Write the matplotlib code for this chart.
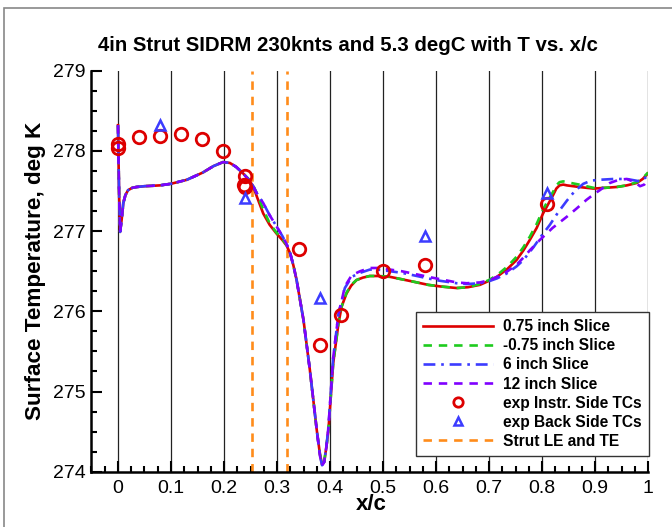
import matplotlib
matplotlib.use("Agg")
import matplotlib.pyplot as plt
from matplotlib.patches import Rectangle
from matplotlib.ticker import MultipleLocator, FuncFormatter

plt.rcParams["font.family"] = ["Liberation Sans", "DejaVu Sans"]

# 0.75 inch slice (red)
x_r = [0.0, 0.0005, 0.002, 0.004, 0.007, 0.01, 0.014, 0.019, 0.027, 0.035, 0.05, 0.079,
       0.1, 0.13, 0.16, 0.18, 0.198, 0.211, 0.223, 0.236, 0.248, 0.255, 0.262, 0.274,
       0.286, 0.299, 0.31, 0.318, 0.325, 0.331, 0.337, 0.35, 0.362, 0.375, 0.381, 0.385,
       0.389, 0.393, 0.397, 0.406, 0.416, 0.422, 0.431, 0.44, 0.45, 0.462, 0.475, 0.49,
       0.513, 0.535, 0.557, 0.585, 0.608, 0.639, 0.66, 0.683, 0.7, 0.715, 0.735, 0.752,
       0.765, 0.777, 0.79, 0.802, 0.812, 0.821, 0.827, 0.833, 0.84, 0.847, 0.87, 0.897,
       0.92, 0.941, 0.96, 0.979, 0.99, 1.0]
y_r = [278.32, 278.1, 277.5, 276.99, 277.15, 277.35, 277.45, 277.51, 277.54, 277.55, 277.56, 277.57,
       277.59, 277.64, 277.73, 277.81, 277.86, 277.85, 277.80, 277.72, 277.63, 277.56, 277.43, 277.22,
       277.08, 276.97, 276.89, 276.82, 276.72, 276.57, 276.39, 275.89, 275.27, 274.52, 274.22, 274.09,
       274.12, 274.3, 274.52, 275.35, 275.85, 276.06, 276.22, 276.32, 276.39, 276.42, 276.44, 276.44,
       276.43, 276.40, 276.37, 276.33, 276.31, 276.29, 276.30, 276.33, 276.38, 276.43, 276.53, 276.64,
       276.76, 276.89, 277.04, 277.22, 277.34, 277.45, 277.53, 277.57, 277.58, 277.57, 277.55, 277.53,
       277.54, 277.55, 277.57, 277.60, 277.65, 277.72]

# -0.75 inch slice (green)
x_g = x_r
y_g = [278.32, 278.1, 277.5, 276.99, 277.15, 277.35, 277.45, 277.51, 277.54, 277.55, 277.56, 277.57,
       277.59, 277.64, 277.73, 277.81, 277.86, 277.85, 277.80, 277.72, 277.64, 277.57, 277.47, 277.27,
       277.1, 276.98, 276.9, 276.83, 276.72, 276.57, 276.39, 275.89, 275.27, 274.52, 274.22, 274.1,
       274.13, 274.3, 274.52, 275.35, 275.85, 276.06, 276.23, 276.33, 276.39, 276.42, 276.44, 276.44,
       276.43, 276.40, 276.37, 276.33, 276.31, 276.29, 276.30, 276.34, 276.39, 276.45, 276.56, 276.68,
       276.8, 276.93, 277.09, 277.27, 277.39, 277.49, 277.57, 277.61, 277.62, 277.61, 277.58, 277.54,
       277.54, 277.55, 277.57, 277.61, 277.66, 277.73]

# 6 inch slice (blue)
x_b = [0.0, 0.0005, 0.002, 0.004, 0.007, 0.01, 0.014, 0.019, 0.027, 0.035, 0.05, 0.079,
       0.1, 0.13, 0.16, 0.18, 0.198, 0.211, 0.223, 0.236, 0.248, 0.255, 0.262, 0.274,
       0.286, 0.299, 0.31, 0.318, 0.325, 0.331, 0.337, 0.35, 0.362, 0.375, 0.381, 0.385,
       0.389, 0.393, 0.397, 0.406, 0.416, 0.422, 0.428, 0.441, 0.457, 0.475, 0.49, 0.513,
       0.535, 0.557, 0.585, 0.608, 0.639, 0.658, 0.683, 0.702, 0.715, 0.733, 0.752, 0.765,
       0.784, 0.8, 0.815, 0.83, 0.847, 0.862, 0.878, 0.893, 0.909, 0.935, 0.96, 0.985, 1.0]
y_b = [278.32, 278.1, 277.5, 276.99, 277.15, 277.35, 277.45, 277.51, 277.54, 277.55, 277.56, 277.57,
       277.59, 277.64, 277.73, 277.81, 277.86, 277.85, 277.80, 277.72, 277.63, 277.56, 277.47, 277.35,
       277.2, 277.06, 276.94, 276.84, 276.72, 276.57, 276.39, 275.89, 275.27, 274.52, 274.2, 274.08,
       274.12, 274.3, 274.55, 275.42, 275.97, 276.13, 276.29, 276.43, 276.48, 276.52, 276.52, 276.5,
       276.48, 276.45, 276.41, 276.38, 276.35, 276.34, 276.35, 276.38, 276.41, 276.47, 276.56, 276.64,
       276.8, 276.95, 277.08, 277.23, 277.38, 277.5, 277.59, 277.63, 277.64, 277.65, 277.65, 277.62, 277.69]

# 12 inch slice (purple)
x_p = [0.0, 0.0005, 0.002, 0.004, 0.007, 0.01, 0.014, 0.019, 0.027, 0.035, 0.05, 0.079,
       0.1, 0.13, 0.16, 0.18, 0.198, 0.211, 0.223, 0.236, 0.248, 0.255, 0.262, 0.274,
       0.286, 0.299, 0.31, 0.318, 0.325, 0.331, 0.337, 0.35, 0.362, 0.375, 0.381, 0.385,
       0.389, 0.393, 0.397, 0.406, 0.416, 0.422, 0.428, 0.441, 0.457, 0.475, 0.49, 0.513,
       0.535, 0.557, 0.585, 0.608, 0.639, 0.658, 0.683, 0.702, 0.715, 0.733, 0.752, 0.765,
       0.777, 0.796, 0.82, 0.847, 0.865, 0.884, 0.9, 0.909, 0.928, 0.945, 0.96, 0.975, 0.985,
       0.993, 1.0]
y_p = [278.32, 278.1, 277.5, 276.99, 277.15, 277.35, 277.45, 277.51, 277.54, 277.55, 277.56, 277.57,
       277.59, 277.64, 277.73, 277.81, 277.86, 277.85, 277.80, 277.72, 277.63, 277.56, 277.47, 277.35,
       277.2, 277.06, 276.94, 276.84, 276.72, 276.57, 276.39, 275.89, 275.27, 274.52, 274.2, 274.08,
       274.12, 274.3, 274.55, 275.42, 275.97, 276.13, 276.31, 276.45, 276.5, 276.54, 276.54, 276.52,
       276.5, 276.47, 276.43, 276.4, 276.36, 276.35, 276.36, 276.39, 276.43, 276.49, 276.58, 276.67,
       276.76, 276.89, 277.04, 277.18, 277.28, 277.39, 277.47, 277.51, 277.6, 277.64, 277.65, 277.61,
       277.56, 277.58, 277.64]

# experiment
x_instr = [0.0, 0.0, 0.039, 0.079, 0.119, 0.159, 0.198, 0.239, 0.238, 0.24, 0.341, 0.381,
           0.42, 0.50, 0.58, 0.81]
y_instr = [278.08, 278.04, 278.17, 278.19, 278.21, 278.15, 278.0, 277.69, 277.58, 277.55,
           276.78, 275.58, 275.96, 276.5, 276.58, 277.34]
x_back = [0.079, 0.239, 0.381, 0.58, 0.809]
y_back = [278.32, 277.41, 276.16, 276.94, 277.47]

strut_le_te = [0.253, 0.318]

fig = plt.figure(figsize=(6.72, 5.27), dpi=100)
ax = fig.add_axes([91.5 / 672, 1 - 471.7 / 527, 556.5 / 672, 401 / 527])

for xv in [0.0, 0.1, 0.2, 0.3, 0.4, 0.5, 0.6, 0.7, 0.8, 0.9, 1.0]:
    ax.axvline(xv, color="#222222", lw=0.9, zorder=1)

lw = 1.9
ax.plot(x_r, y_r, color="#dd0000", lw=lw, label="0.75 inch Slice", zorder=3)
ax.plot(x_g, y_g, color="#1ecb1e", lw=lw, dashes=(3.2, 2.6), label="-0.75 inch Slice", zorder=3)
ax.plot(x_b, y_b, color="#3c3cff", lw=lw, dashes=(4.5, 2.2, 1, 2.2), label="6 inch Slice", zorder=3)
ax.plot(x_p, y_p, color="#7f00ff", lw=lw, dashes=(3.2, 2.6), label="12 inch Slice", zorder=3)

ax.plot(x_instr, y_instr, ls="none", marker="o", ms=9, mfc="none", mec="#dd0000", mew=2,
        label="exp Instr. Side TCs", zorder=4)
ax.plot(x_back, y_back, ls="none", marker="^", ms=7.5, mfc="none", mec="#3c3cff", mew=1.8,
        label="exp Back Side TCs", zorder=4)

for i, xv in enumerate(strut_le_te):
    ax.axvline(xv, color="#ff8c1a", lw=1.9, dashes=(3.2, 2.6),
               label="Strut LE and TE" if i == 0 else None, zorder=2)

ax.set_xlim(-0.05, 1.0)
ax.set_ylim(274, 279)

ax.xaxis.set_major_locator(MultipleLocator(0.1))
ax.xaxis.set_minor_locator(MultipleLocator(0.025))
ax.yaxis.set_major_locator(MultipleLocator(1))
ax.yaxis.set_minor_locator(MultipleLocator(0.25))
ax.xaxis.set_major_formatter(FuncFormatter(lambda v, p: "%g" % round(v, 3) if v >= -0.001 else ""))

ax.tick_params(which="both", direction="in", width=1.5, labelsize=14, color="black")
ax.tick_params(which="major", length=8)
ax.tick_params(which="minor", length=4.5)
ax.tick_params(axis="x", pad=6)
ax.tick_params(axis="y", pad=4)

for side in ["top", "right"]:
    ax.spines[side].set_visible(False)
for side in ["left", "bottom"]:
    ax.spines[side].set_linewidth(1.8)

ax.set_xlabel("x/c", fontsize=16, fontweight="bold")
ax.xaxis.set_label_coords(0.502, -0.083)
ax.xaxis.label.set_va("center")
ax.set_ylabel("Surface Temperature, deg K", fontsize=16.2, fontweight="bold")
ax.yaxis.set_label_coords(-0.1015, 0.5)
ax.yaxis.label.set_va("center")

fig.text(348 / 672, 1 - 45 / 527, "4in Strut SIDRM 230knts and 5.3 degC with T vs. x/c",
         ha="center", va="center", fontsize=14.7, fontweight="bold")

leg = ax.legend(loc="lower right", bbox_to_anchor=(1.002, 0.04), borderaxespad=0,
                prop={"size": 11.2, "weight": "bold"}, handlelength=4.5, numpoints=1,
                markerscale=0.75, fancybox=False, framealpha=1, edgecolor="#333333",
                labelspacing=0.26, handletextpad=0.7, borderpad=0.45)
leg.get_frame().set_linewidth(1.0)

fig.add_artist(Rectangle((4 / 672, -0.1), 1.2, 1.1 - 8 / 527, transform=fig.transFigure,
                         fill=False, edgecolor="#888888", lw=1.2))

fig.savefig("out.png", dpi=100)
